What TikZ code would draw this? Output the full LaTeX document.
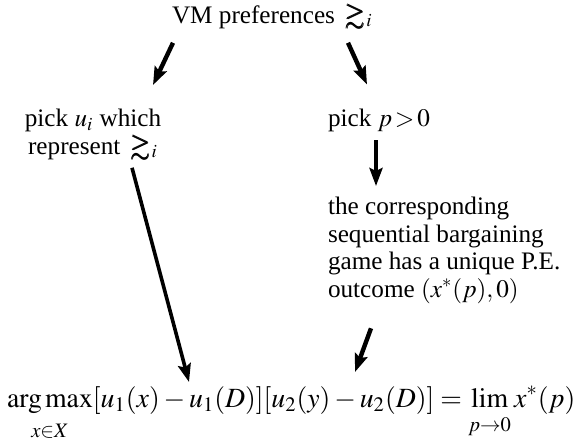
\documentclass[tikz,border=0pt]{standalone}
\usepackage{amsmath}
\usepackage{amssymb}
\usepackage{mathptmx}
\usepackage{fontspec}
\setmainfont{Liberation Serif}
\usetikzlibrary{arrows.meta,calc}
\newcommand{\prefreli}{\mbox{\pmb{$\gtrsim$}}\kern0.6pt$_{i}$}
\begin{document}
\begin{tikzpicture}[x=0.5pt,y=-0.5pt,
  every node/.style={inner sep=0pt,outer sep=0pt,font=\fontsize{12.6}{13.75}\selectfont},
  txt/.style={align=left},
  eqfont/.style={font=\fontsize{13.9}{15}\selectfont},
  arr/.style={line width=2.2pt,-{Stealth[length=9pt,width=6.5pt,inset=1.5pt]}},
  longarr/.style={line width=1.8pt,-{Stealth[length=9pt,width=6.5pt,inset=1.5pt]}}]
\useasboundingbox (0,0) rectangle (577,440);
\node[anchor=base west] (top) at (172,23) {VM preferences\, \prefreli};
\node[anchor=base,align=center] (left) at (93,154) {pick $u_i$ which\\represent\, \prefreli};
\node[anchor=base west] (pickp) at (328,126) {pick $p\mkern-2mu>\mkern-2mu0$};
\node[anchor=base west,txt] (block) at (328,297) {the corresponding\\sequential bargaining\\game has a unique P.E.\\outcome $(x^*(p),0)$};
\node[anchor=base west,eqfont] (eq) at (7,407) {$\displaystyle\operatorname*{arg\,max}_{\rule{0pt}{10pt}x\in X}[u_1(x)-u_1(D)][u_2(y)-u_2(D)]=\lim_{\rule{0pt}{10pt}p\to 0}x^*(p)$};
\draw[arr] ($(top.south west)+(1,14)$) -- ($(left.north)+(60,-24)$);
\draw[arr] ($(top.south west)+(176,14)$) -- ($(pickp.north west)+(39,-24)$);
\draw[arr] ($(pickp.south west)+(48,9)$) -- ($(block.north west)+(48,-11)$);
\draw[longarr] ($(left.south)+(39,8)$) -- ($(eq.base west)+(182,-25)$);
\draw[arr] ($(block.south west)+(43,25)$) -- ($(eq.base west)+(348,-35)$);
\end{tikzpicture}
\end{document}
